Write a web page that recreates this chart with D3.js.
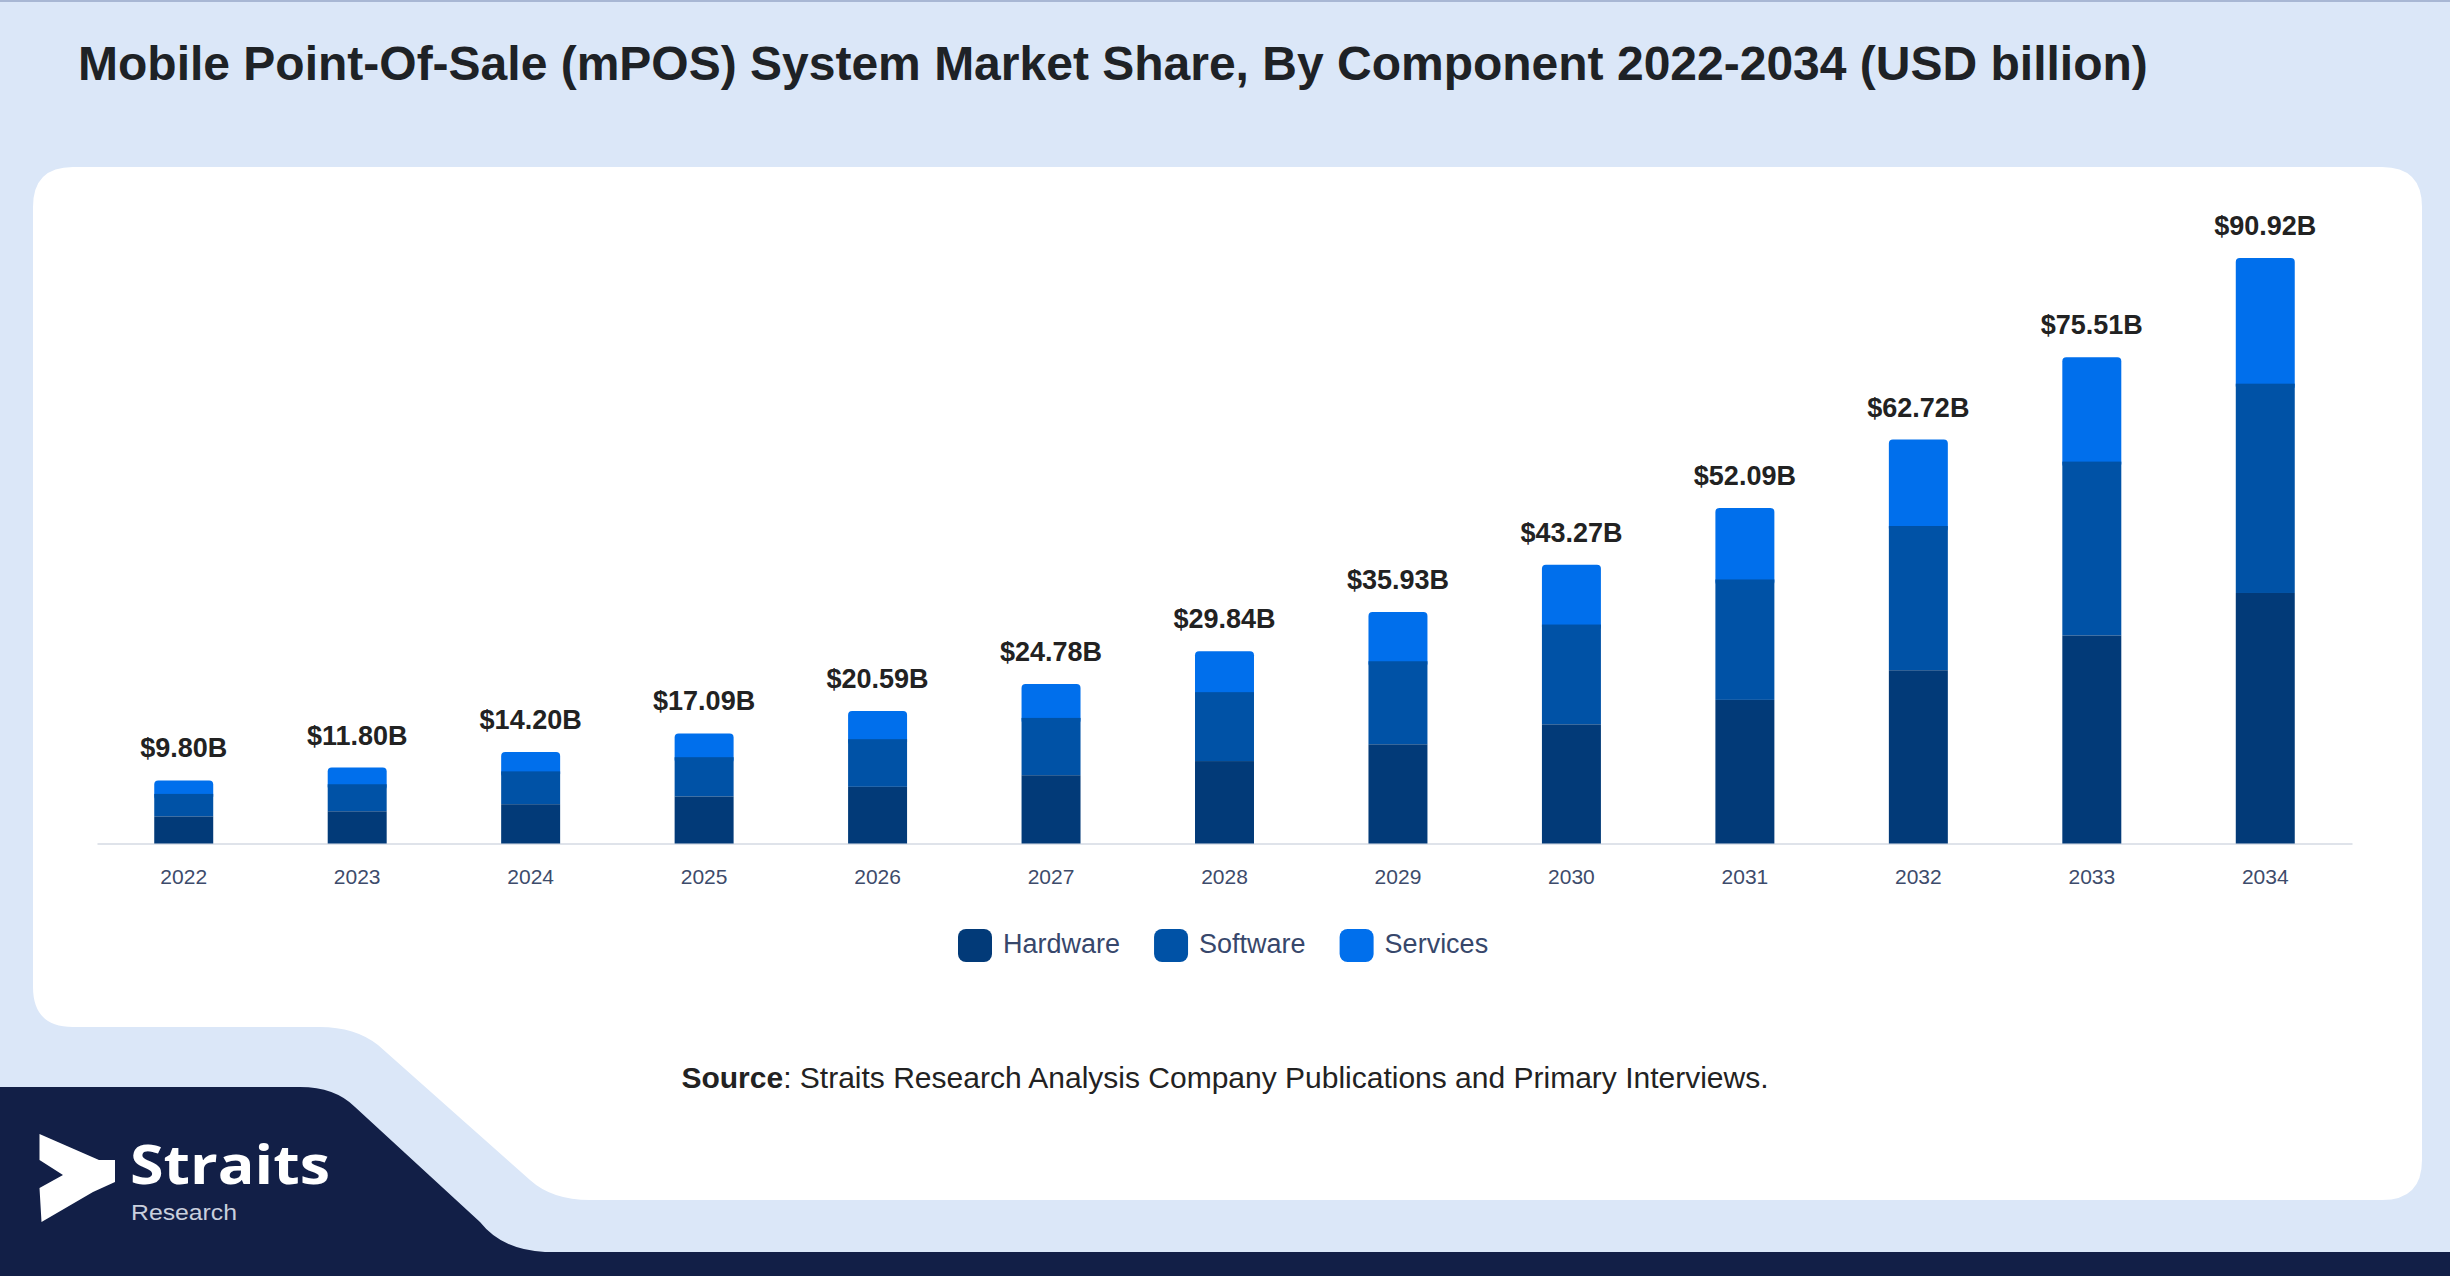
<!DOCTYPE html>
<html>
<head>
<meta charset="utf-8">
<script src="https://cdn.jsdelivr.net/npm/d3@7"></script>
<style>
  html, body { margin: 0; padding: 0; background: #dbe7f8; }
  svg { display: block; }
</style>
</head>
<body>
<svg id="vis"></svg>
<script>
// values (USD billion)
const years = ["2022", "2023", "2024", "2025", "2026", "2027", "2028", "2029", "2030", "2031", "2032", "2033", "2034"];
const hardware = [4.2, 5.0, 6.1, 7.3, 8.8, 10.6, 12.8, 15.4, 18.5, 22.3, 26.9, 32.3, 38.9];
const software = [3.5, 4.2, 5.1, 6.1, 7.4, 8.9, 10.7, 12.9, 15.5, 18.7, 22.4, 27.0, 32.5];
const services = [2.1, 2.6, 3.0, 3.69, 4.39, 5.28, 6.34, 7.63, 9.27, 11.09, 13.42, 16.21, 19.52];
const segments = ["Hardware", "Software", "Services"];
const segmentColors = ["#023a78", "#0052a6", "#006fec"];

const titleText = "Mobile Point-Of-Sale (mPOS) System Market Share, By Component 2022-2034 (USD billion)";
const sourceLabel = "Source";
const sourceText = ": Straits Research Analysis Company Publications and Primary Interviews.";

function main()
{
    const width = 2450;
    const height = 1276;

    const svg = d3.select("#vis")
        .attr("width", width)
        .attr("height", height)
        .style("font-family", "'Liberation Sans', Arial, sans-serif");

    // page background + thin top rule
    svg.append("rect").attr("width", width).attr("height", height).attr("fill", "#dbe7f8");
    svg.append("rect").attr("width", width).attr("height", 2).attr("fill", "#a8b7d4");

    // white card with the cut-away bottom left corner
    const card = "M 73 167 L 2382 167 Q 2422 167 2422 207 L 2422 1160 Q 2422 1200 2382 1200"
        + " L 590 1200 Q 552 1200 530 1180 L 378 1045 Q 355 1027 320 1027"
        + " L 73 1027 Q 33 1027 33 987 L 33 207 Q 33 167 73 167 Z";
    svg.append("path").attr("d", card).attr("fill", "#ffffff");

    // navy footer band
    const footer = "M 0 1087 L 300 1087 Q 335 1087 355 1107 L 480 1222 Q 502 1250 545 1252"
        + " L 2450 1252 L 2450 1276 L 0 1276 Z";
    svg.append("path").attr("d", footer).attr("fill", "#121f47");

    // title
    svg.append("text")
        .attr("x", 78)
        .attr("y", 80)
        .attr("font-size", 48)
        .attr("font-weight", "bold")
        .attr("fill", "#1e2226")
        .text(titleText);

    // scales
    const xScale = d3.scaleBand()
        .domain(years)
        .range([97, 2352])
        .paddingInner(0.66)
        .paddingOuter(0.33);

    const yScale = d3.scaleLinear()
        .domain([0, 100])
        .range([843.5, 199.5]);

    const rows = years.map((yr, i) => ({
        year: yr,
        Hardware: hardware[i],
        Software: software[i],
        Services: services[i]
    }));

    const stacked = d3.stack().keys(segments)(rows);
    const color = d3.scaleOrdinal().domain(segments).range(segmentColors);

    // x axis
    const xAxis = svg.append("g")
        .attr("transform", "translate(0," + yScale(0) + ")")
        .call(d3.axisBottom(xScale).tickSize(0).tickSizeOuter(0).tickPadding(26));
    xAxis.select(".domain").attr("stroke", "#dfe3ea").attr("stroke-width", 2);
    xAxis.selectAll("text")
        .attr("font-size", 21)
        .attr("fill", "#3d4b6b")
        .style("font-family", "'Liberation Sans', Arial, sans-serif");

    // bars, top segment drawn first so its rounded top stays visible
    const layers = svg.append("g")
        .selectAll("g")
        .data(stacked.slice().reverse())
        .enter()
        .append("g")
        .attr("fill", d => color(d.key));

    layers.selectAll("rect")
        .data(d => d.map(v => ({key: d.key, v: v})))
        .enter()
        .append("rect")
        .attr("x", d => xScale(d.v.data.year))
        .attr("width", xScale.bandwidth())
        .attr("y", d => yScale(d.v[1]))
        .attr("height", d => yScale(d.v[0]) - yScale(d.v[1]) + (d.key === "Services" ? 6 : 0))
        .attr("rx", d => d.key === "Services" ? 4 : 0);

    // totals above bars
    svg.append("g")
        .selectAll("text")
        .data(rows)
        .enter()
        .append("text")
        .attr("x", d => xScale(d.year) + xScale.bandwidth() / 2)
        .attr("y", d => yScale(d.Hardware + d.Software + d.Services) - 23)
        .attr("text-anchor", "middle")
        .attr("font-size", 27)
        .attr("font-weight", "bold")
        .attr("fill", "#222222")
        .text(d => "$" + (d.Hardware + d.Software + d.Services).toFixed(2) + "B");

    // legend
    const legend = svg.append("g");
    let lx = 958;
    segments.forEach(function(s)
    {
        legend.append("rect")
            .attr("x", lx).attr("y", 929)
            .attr("width", 34).attr("height", 33)
            .attr("rx", 8)
            .attr("fill", color(s));
        const t = legend.append("text")
            .attr("x", lx + 45).attr("y", 953)
            .attr("font-size", 27)
            .attr("fill", "#37476b")
            .text(s);
        lx += 45 + t.node().getComputedTextLength() + 34;
    });

    // source line
    const src = svg.append("text")
        .attr("x", 1225)
        .attr("y", 1088)
        .attr("text-anchor", "middle")
        .attr("font-size", 30)
        .attr("fill", "#222222");
    src.append("tspan").attr("font-weight", "bold").text(sourceLabel);
    src.append("tspan").text(sourceText);

    // logo
    svg.append("path")
        .attr("d", "M 39.5 1134 L 99 1160 L 115 1160 L 115 1182 L 93 1192 L 41.5 1222 L 39.5 1188 L 63 1175 L 39.5 1160 Z")
        .attr("fill", "#ffffff");
    svg.append("text")
        .attr("x", 130).attr("y", 1184)
        .attr("font-size", 54)
        .attr("font-weight", "bold")
        .attr("textLength", 200)
        .attr("lengthAdjust", "spacingAndGlyphs")
        .attr("fill", "#ffffff")
        .style("font-family", "'Open Sans', sans-serif")
        .text("Straits");
    svg.append("text")
        .attr("x", 131).attr("y", 1220)
        .attr("font-size", 22)
        .attr("textLength", 106)
        .attr("lengthAdjust", "spacingAndGlyphs")
        .attr("fill", "#c9d0de")
        .text("Research");
}

main();
</script>
</body>
</html>
